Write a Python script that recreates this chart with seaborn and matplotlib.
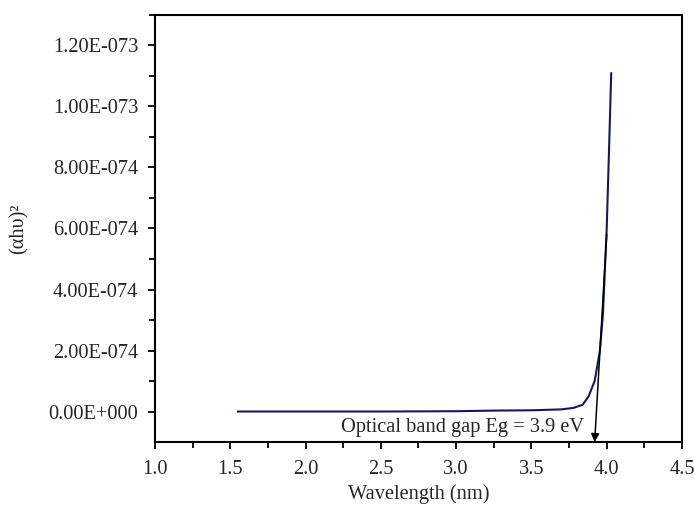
import numpy as np
import pandas as pd
import matplotlib
matplotlib.use("Agg")
import matplotlib.pyplot as plt
import seaborn as sns
from matplotlib.ticker import FixedLocator, FuncFormatter

energy = [1.55, 2.0, 2.5, 3.0, 3.25, 3.5, 3.7, 3.78, 3.84, 3.88, 3.92, 3.955, 3.975, 4.0, 4.015, 4.03]
alpha_hv_sq = [0.0, 0.0, 0.0, 0.01e-74, 0.03e-74, 0.04e-74, 0.07e-74, 0.12e-74, 0.22e-74,
               0.5e-74, 1.0e-74, 2.0e-74, 3.2e-74, 6.0e-74, 8.5e-74, 11.1e-74]

# tangent line used to read the band gap
tangent_start = (4.0, 5.8e-74)
tangent_end = (3.92, -1.0e-74)
gap_label = "Optical band gap Eg = 3.9 eV"

x_major = [1.0, 1.5, 2.0, 2.5, 3.0, 3.5, 4.0, 4.5]
y_major = [0.0, 2e-74, 4e-74, 6e-74, 8e-74, 1.0e-73, 1.2e-73]

sns.set_style("ticks")
plt.rcParams['font.family'] = ['Liberation Serif', 'DejaVu Serif']
fs = 14.7

df = pd.DataFrame({'energy': energy, 'value': alpha_hv_sq})

fig = plt.figure(figsize=(6.94, 5.08), dpi=100)
ax = fig.add_axes([0.2233, 0.1299, 0.7594, 0.8406])

sns.lineplot(data=df, x='energy', y='value', ax=ax, color='#16195e', linewidth=1.5)

ax.annotate('', xy=tangent_end, xytext=tangent_start,
            arrowprops=dict(arrowstyle='-|>', color='black', lw=1.1, mutation_scale=12,
                            shrinkA=0, shrinkB=0))
ax.text(3.04, -0.52e-74, gap_label, ha='center', va='center', fontsize=fs)

ax.set_xlim(1.0, 4.5)
ax.set_ylim(-1.0e-74, 1.3e-73)
ax.xaxis.set_major_locator(FixedLocator(x_major))
ax.xaxis.set_minor_locator(FixedLocator([v + 0.25 for v in x_major[:-1]]))
ax.yaxis.set_major_locator(FixedLocator(y_major))
ax.yaxis.set_minor_locator(FixedLocator([v + 1e-74 for v in y_major]))
ax.xaxis.set_major_formatter(FuncFormatter(lambda v, p: f"{v:.1f}"))


def sci_fmt(v, p):
    mant, exp = f"{v:.2E}".split('E')
    return f"{mant}E{int(exp):+04d}"


ax.yaxis.set_major_formatter(FuncFormatter(sci_fmt))
ax.tick_params(which='both', direction='out', labelsize=fs, width=1.3, color='black')
ax.tick_params(which='major', length=5)
ax.tick_params(which='minor', length=4)
ax.tick_params(axis='y', which='major', pad=7)
ax.tick_params(axis='x', which='major', pad=8)
for s in ax.spines.values():
    s.set_linewidth(1.5)
    s.set_color('black')

ax.set_xlabel('Wavelength (nm)', fontsize=fs, labelpad=4)
ax.set_ylabel('(αhυ)²', fontsize=fs, labelpad=14)

fig.savefig('out.png', dpi=100)
